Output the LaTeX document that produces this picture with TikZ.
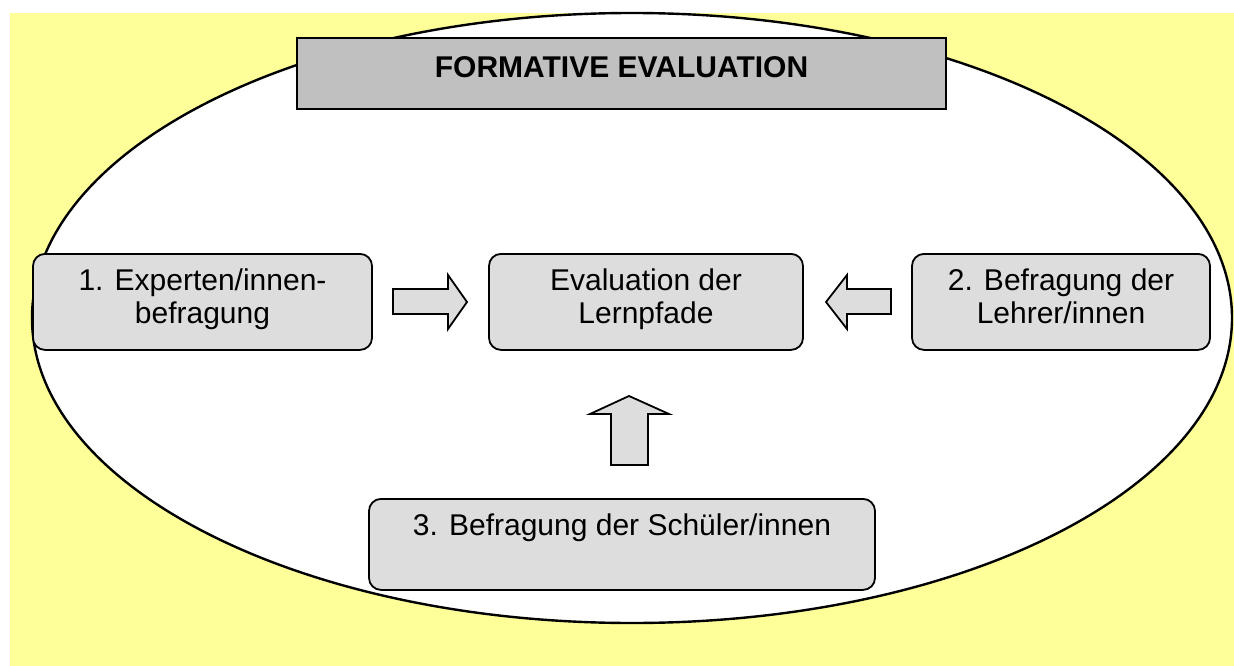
\documentclass[tikz,border=0pt]{standalone}
\usepackage{fontspec}
\setmainfont{Liberation Sans}
\begin{document}
\begin{tikzpicture}[x=1pt,y=-1pt,
  bgfill/.style={fill=bgyellow},
  oval/.style={draw=black, fill=white, line width=2.4pt},
  titlebox/.style={draw=black, fill=titlegray, line width=2.2pt, inner sep=0pt,
    minimum width=649pt, anchor=north, font=\bfseries\fontsize{30}{33}\selectfont},
  gbox/.style={draw=black, fill=boxgray, line width=1.8pt, rounded corners=12pt,
    inner sep=0pt, anchor=north, font=\fontsize{30}{32.5}\selectfont},
  blockarrow/.style={draw=black, fill=boxgray, line width=1.8pt, line join=miter}
]
\definecolor{bgyellow}{HTML}{FFFF99}
\definecolor{titlegray}{HTML}{C0C0C0}
\definecolor{boxgray}{HTML}{DDDDDD}
\useasboundingbox (0,0) rectangle (1234,666);
\fill[bgfill] (10,13) rectangle (1234,666);
% ellipse
\draw[oval] (632,318) ellipse [x radius=600, y radius=305];
% title
\node[titlebox, text height=39pt, text depth=32pt] (title) at (621.5,37) {FORMATIVE EVALUATION};
% boxes
\node[gbox, minimum width=339pt, text height=37pt, text depth=59pt] (expert) at (202.5,253)
  {\parbox[t]{330pt}{\centering 1. Experten/innen-\\befragung}};
\node[gbox, minimum width=314pt, text height=37pt, text depth=59pt] (eval) at (646,253)
  {\parbox[t]{305pt}{\centering Evaluation der\\Lernpfade}};
\node[gbox, minimum width=298pt, text height=37pt, text depth=59pt] (lehrer) at (1061,253)
  {\parbox[t]{290pt}{\centering 2. Befragung der\\Lehrer/innen}};
\node[gbox, minimum width=506pt, text height=37pt, text depth=54pt] (schueler) at (622,498)
  {3. Befragung der Schüler/innen};
% block arrows
\draw[blockarrow] (393,289) -- (448,289) -- (448,275) -- (467,302) -- (448,329) -- (448,314) -- (393,314) -- cycle;
\draw[blockarrow] (891,289) -- (847,289) -- (847,275) -- (826,302) -- (847,329) -- (847,314) -- (891,314) -- cycle;
\draw[blockarrow] (611,465) -- (611,414) -- (590,414) -- (629,396) -- (669,414) -- (648,414) -- (648,465) -- cycle;
\end{tikzpicture}
\end{document}
